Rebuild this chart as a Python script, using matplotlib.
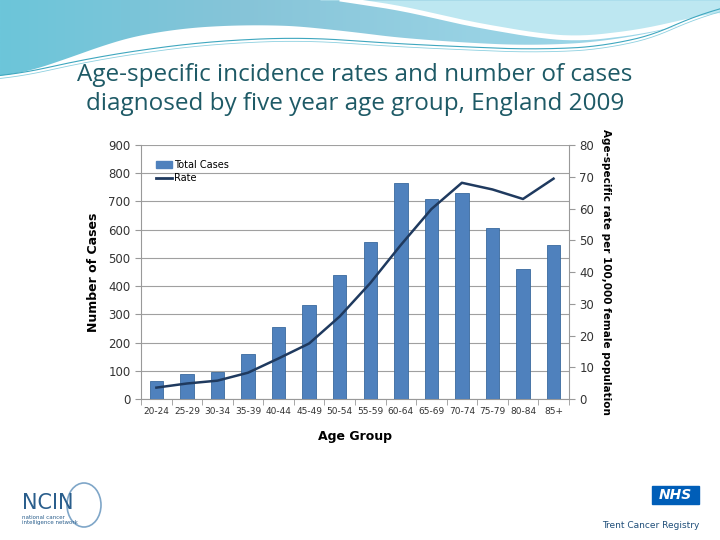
import numpy as np
import matplotlib
matplotlib.use("Agg")
import matplotlib.pyplot as plt
from matplotlib.colors import LinearSegmentedColormap
from matplotlib.patches import Polygon, Rectangle, Ellipse
from matplotlib.lines import Line2D

# data
age_groups = ["20-24", "25-29", "30-34", "35-39", "40-44", "45-49", "50-54",
              "55-59", "60-64", "65-69", "70-74", "75-79", "80-84", "85+"]
total_cases = [64, 89, 97, 160, 254, 333, 439, 556, 767, 709, 731, 606, 461, 546]
rate = [3.6, 4.9, 5.8, 8.3, 12.8, 17.5, 26.0, 36.5, 48.5, 59.8, 68.1, 66.0, 63.0, 69.4]

title = "Age-specific incidence rates and number of cases\ndiagnosed by five year age group, England 2009"

bar_col = "#4F81BD"
line_col = "#1F3A5F"
teal = "#1E5A66"


def smooth_curve(xs, px, py, k=25):
    # piecewise curve through a few guide points, softened with a moving average
    y = np.interp(xs, px, py)
    pad = np.pad(y, k, mode="edge")
    return np.convolve(pad, np.ones(2 * k + 1) / (2 * k + 1), mode="same")[k:-k]


fig = plt.figure(figsize=(7.2, 5.4), dpi=100)

# slide background: the wave at the top
bg = fig.add_axes([0, 0, 1, 1], zorder=-5)
bg.set_xlim(0, 720)
bg.set_ylim(540, 0)
bg.axis("off")
xs = np.linspace(0, 720, 400)
edge = smooth_curve(xs, [0, 40, 100, 160, 250, 330, 360, 450, 540, 620, 690, 720],
                    [78, 70, 45, 30, 24, 28, 34, 42, 46, 40, 24, 12])
wave_cm = LinearSegmentedColormap.from_list("wave", ["#6CC6DA", "#86C4D8", "#98D2E4", "#9ED8EA"])
img = bg.imshow(np.linspace(0, 1, 256).reshape(1, -1), extent=[0, 720, 85, 0],
                cmap=wave_cm, aspect="auto", zorder=0)
clip = Polygon(np.vstack([[[0, 0], [720, 0]], np.column_stack([xs[::-1], edge[::-1]])]),
               closed=True, transform=bg.transData)
img.set_clip_path(clip)
# light area and white band across the upper right
bx = np.linspace(320, 720, 200)
band = smooth_curve(bx, [320, 400, 470, 540, 580, 640, 720], [0, 12, 28, 40, 43, 36, 18], k=12)
bg.fill_between(bx, 0, band - 4, color="#BDE7F1", lw=0, zorder=1)
bg.plot(bx, band - 4, color="white", lw=3.5, zorder=2, solid_capstyle="butt")
# thin lines
lx = np.linspace(0, 720, 400)
ly = smooth_curve(lx, [0, 100, 200, 300, 400, 540, 620, 680, 720], [78, 56, 42, 37, 44, 50, 45, 26, 2])
bg.plot(lx, ly, color="#3FA7BF", lw=0.8, zorder=2)
bg.plot(lx, ly + 3, color="#8DD0E0", lw=0.6, zorder=2)

fig.text(0.493, 0.834, title, ha="center", va="center", fontsize=17.5,
         family="Open Sans", color=teal, linespacing=1.3)

# logos
bg.text(22, 503, "NCIN", fontsize=15, color="#2A5E8C", family="Liberation Sans Narrow", va="center")
bg.add_patch(Ellipse((84, 505), 34, 44, fill=False, ec="#7FA6C8", lw=1.2))
bg.text(22, 520, "national cancer\nintelligence network", fontsize=4, color="#2A5E8C", va="center")
bg.add_patch(Rectangle((652, 486), 47, 18, color="#005EB8"))
bg.text(675, 495, "NHS", fontsize=10, color="white", weight="bold", style="italic", ha="center", va="center")
bg.text(699, 525, "Trent Cancer Registry", fontsize=6.5, color="#1F4E79", ha="right", va="center")

# chart
ax = fig.add_axes([0.196, 0.261, 0.594, 0.4705])
x = np.arange(len(age_groups))
ax.bar(x, total_cases, width=0.44, color=bar_col, edgecolor="#3A6A9E", lw=0.6, zorder=3)
ax.set_ylim(0, 900)
ax.set_yticks(range(0, 901, 100))
ax.set_xlim(-0.5, len(age_groups) - 0.5)
ax.set_xticks(x)
ax.set_xticklabels(age_groups, fontsize=6.5, color="#333333")
ax.set_xticks(np.arange(-0.5, len(age_groups), 1), minor=True)
ax.tick_params(axis="x", which="major", length=0, pad=6)
ax.tick_params(axis="x", which="minor", length=4, color="#999999")
ax.tick_params(axis="y", labelsize=8.5, length=4, color="#999999", colors="#333333")
ax.grid(axis="y", color="#A0A0A0", lw=0.8, zorder=0)
for s in ["top", "right"]:
    ax.spines[s].set_visible(False)
ax.spines["left"].set_color("#999999")
ax.spines["bottom"].set_color("#999999")
ax.set_ylabel("Number of Cases", fontsize=9, weight="bold", labelpad=6)
ax.set_xlabel("Age Group", fontsize=9, weight="bold", labelpad=10)

ax2 = ax.twinx()
ax2.plot(x, rate, color=line_col, lw=1.8, zorder=4)
ax2.set_ylim(0, 80)
ax2.set_yticks(range(0, 81, 10))
ax2.tick_params(axis="y", labelsize=8.5, length=4, color="#999999", colors="#333333")
for s in ["top", "left", "bottom"]:
    ax2.spines[s].set_visible(False)
ax2.spines["right"].set_color("#999999")
ax2.set_ylabel("Age-specific rate per 100,000 female population", fontsize=7.5, weight="bold",
               rotation=-90, labelpad=12)

handles = [Rectangle((0, 0), 1, 1, color=bar_col), Line2D([0], [0], color=line_col, lw=2)]
ax2.legend(handles, ["Total Cases", "Rate"], loc="upper left", bbox_to_anchor=(0.015, 0.975),
           frameon=False, fontsize=7, handlelength=1.6, handletextpad=0.2, labelspacing=0.3)

fig.savefig("out.png", dpi=100)
